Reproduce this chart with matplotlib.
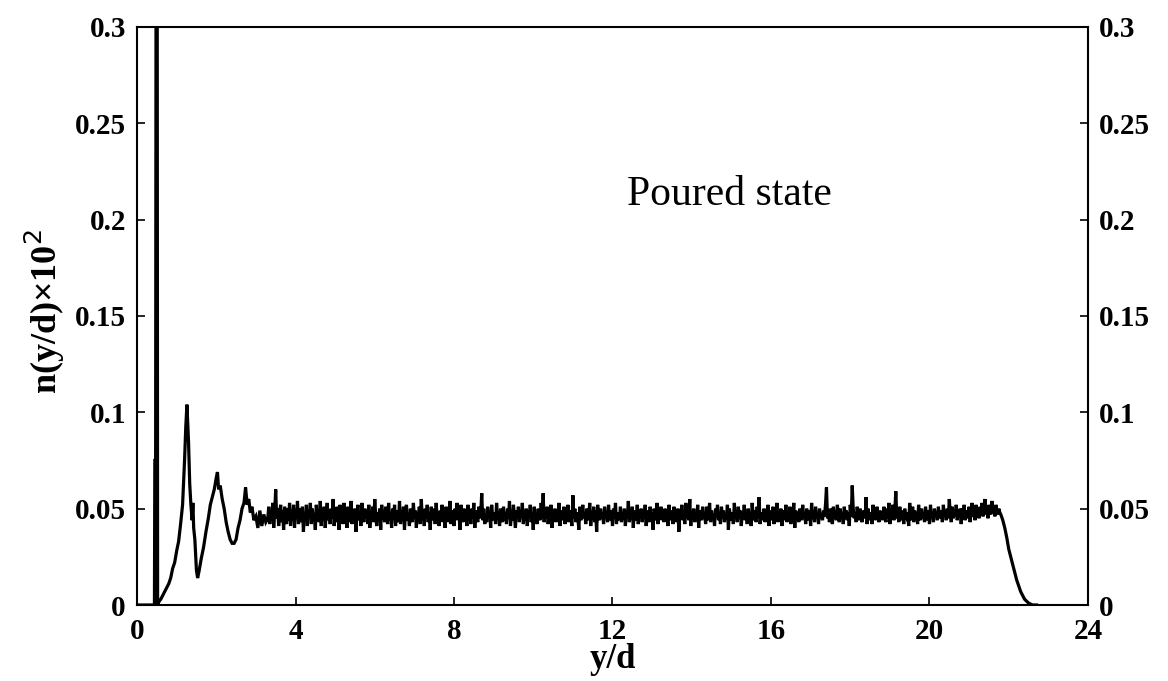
import numpy as np
import matplotlib
matplotlib.use("Agg")
import matplotlib.pyplot as plt

plt.rcParams['font.family'] = ['Liberation Serif', 'DejaVu Serif']

# Near-wall region: wall spike and first layering peaks (x = y/d, y = n(y/d)x10^2)
near_wall_x = [0.00, 0.40, 0.44, 0.45, 0.47, 0.48, 0.51, 0.52, 0.56, 0.60,
               0.65, 0.70, 0.75, 0.80, 0.85, 0.90, 0.95, 1.00, 1.05, 1.10,
               1.15, 1.20, 1.23, 1.26, 1.28, 1.30, 1.33, 1.36, 1.39, 1.41,
               1.43, 1.46, 1.50, 1.53, 1.57, 1.62, 1.68, 1.74, 1.80, 1.85,
               1.90, 1.95, 2.00, 2.03, 2.06, 2.10, 2.15, 2.20, 2.25, 2.30,
               2.35, 2.40, 2.45, 2.50, 2.55, 2.60, 2.65, 2.70, 2.74, 2.78,
               2.82, 2.86, 2.90, 2.95, 3.00, 3.05, 3.10, 3.15, 3.20, 3.25]
near_wall_n = [0.000, 0.000, 0.000, 0.075, 0.075, 0.320, 0.320, 0.000, 0.002, 0.003,
               0.005, 0.007, 0.009, 0.011, 0.014, 0.019, 0.022, 0.028, 0.033, 0.042,
               0.052, 0.075, 0.092, 0.104, 0.095, 0.085, 0.063, 0.052, 0.044, 0.053,
               0.040, 0.034, 0.018, 0.014, 0.018, 0.024, 0.030, 0.038, 0.045, 0.052,
               0.056, 0.060, 0.066, 0.069, 0.060, 0.062, 0.055, 0.050, 0.043, 0.038,
               0.034, 0.032, 0.032, 0.034, 0.040, 0.044, 0.050, 0.053, 0.061, 0.052,
               0.055, 0.048, 0.051, 0.044, 0.046, 0.040, 0.049, 0.041, 0.047, 0.043]

# Bulk region, sampled every 0.025 from y/d = 3.30 to 21.80
bulk_start, bulk_step = 3.30, 0.025
bulk_n = [
    0.045, 0.051, 0.042, 0.049, 0.044, 0.053, 0.040, 0.048, 0.060, 0.045, 0.050, 0.041, 0.047, 0.052, 0.043, 0.049, 0.039, 0.051, 0.046, 0.042,
    0.050, 0.044, 0.053, 0.041, 0.048, 0.045, 0.052, 0.040, 0.049, 0.046, 0.054, 0.042, 0.047, 0.050, 0.043, 0.051, 0.038, 0.048, 0.045, 0.052,
    0.041, 0.049, 0.046, 0.053, 0.042, 0.050, 0.044, 0.047, 0.039, 0.052, 0.045, 0.048, 0.043, 0.054, 0.041, 0.049, 0.046, 0.051, 0.040, 0.047,
    0.053, 0.044, 0.048, 0.042, 0.050, 0.045, 0.055, 0.041, 0.047, 0.043, 0.051, 0.046, 0.039, 0.052, 0.044, 0.049, 0.042, 0.053, 0.045, 0.048,
    0.040, 0.051, 0.046, 0.043, 0.054, 0.042, 0.049, 0.045, 0.050, 0.038, 0.047, 0.052, 0.044, 0.048, 0.041, 0.053, 0.046, 0.043, 0.050, 0.045,
    0.049, 0.042, 0.052, 0.040, 0.047, 0.045, 0.051, 0.043, 0.055, 0.046, 0.041, 0.048, 0.044, 0.050, 0.039, 0.052, 0.045, 0.047, 0.043, 0.051,
    0.046, 0.042, 0.053, 0.044, 0.048, 0.040, 0.050, 0.045, 0.052, 0.041, 0.049, 0.046, 0.043, 0.054, 0.042, 0.047, 0.045, 0.051, 0.039, 0.048,
    0.052, 0.044, 0.046, 0.041, 0.050, 0.047, 0.043, 0.053, 0.045, 0.049, 0.040, 0.048, 0.046, 0.051, 0.042, 0.055, 0.044, 0.047, 0.041, 0.050,
    0.045, 0.052, 0.043, 0.048, 0.039, 0.051, 0.046, 0.044, 0.050, 0.042, 0.053, 0.045, 0.047, 0.041, 0.049, 0.046, 0.052, 0.043, 0.048, 0.040,
    0.051, 0.045, 0.047, 0.043, 0.054, 0.042, 0.049, 0.046, 0.041, 0.050, 0.044, 0.053, 0.045, 0.048, 0.039, 0.052, 0.046, 0.043, 0.050, 0.045,
    0.048, 0.041, 0.052, 0.044, 0.047, 0.042, 0.050, 0.045, 0.053, 0.040, 0.049, 0.046, 0.043, 0.051, 0.045, 0.048, 0.058, 0.044, 0.050, 0.042,
    0.047, 0.043, 0.051, 0.045, 0.049, 0.040, 0.052, 0.046, 0.044, 0.048, 0.042, 0.053, 0.045, 0.047, 0.041, 0.050, 0.046, 0.043, 0.051, 0.044,
    0.048, 0.042, 0.050, 0.045, 0.054, 0.041, 0.047, 0.044, 0.052, 0.046, 0.040, 0.049, 0.045, 0.051, 0.043, 0.048, 0.046, 0.053, 0.042, 0.047,
    0.044, 0.050, 0.041, 0.049, 0.046, 0.052, 0.043, 0.048, 0.039, 0.051, 0.045, 0.047, 0.042, 0.050, 0.046, 0.044, 0.053, 0.045, 0.058, 0.043,
    0.049, 0.045, 0.051, 0.042, 0.047, 0.044, 0.052, 0.040, 0.048, 0.046, 0.050, 0.043, 0.047, 0.045, 0.053, 0.041, 0.049, 0.046, 0.044, 0.051,
    0.042, 0.048, 0.045, 0.052, 0.043, 0.049, 0.046, 0.041, 0.057, 0.045, 0.050, 0.043, 0.048, 0.046, 0.039, 0.051, 0.044, 0.047, 0.052, 0.045,
    0.048, 0.042, 0.050, 0.046, 0.044, 0.053, 0.041, 0.047, 0.045, 0.051, 0.043, 0.049, 0.038, 0.052, 0.046, 0.044, 0.050, 0.045, 0.048, 0.042,
    0.051, 0.045, 0.047, 0.043, 0.052, 0.046, 0.044, 0.049, 0.041, 0.050, 0.045, 0.053, 0.042, 0.048, 0.046, 0.044, 0.051, 0.043, 0.047, 0.045,
    0.050, 0.041, 0.048, 0.046, 0.054, 0.043, 0.047, 0.045, 0.051, 0.040, 0.049, 0.046, 0.044, 0.052, 0.042, 0.048, 0.045, 0.050, 0.043, 0.047,
    0.045, 0.052, 0.041, 0.049, 0.046, 0.043, 0.051, 0.045, 0.048, 0.039, 0.050, 0.047, 0.044, 0.053, 0.042, 0.048, 0.046, 0.051, 0.044, 0.049,
    0.043, 0.050, 0.045, 0.047, 0.041, 0.052, 0.046, 0.044, 0.049, 0.042, 0.051, 0.045, 0.047, 0.043, 0.050, 0.038, 0.048, 0.046, 0.052, 0.044,
    0.047, 0.042, 0.053, 0.045, 0.049, 0.044, 0.055, 0.041, 0.048, 0.046, 0.050, 0.043, 0.047, 0.045, 0.052, 0.040, 0.049, 0.046, 0.044, 0.051,
    0.045, 0.048, 0.042, 0.051, 0.046, 0.044, 0.053, 0.043, 0.049, 0.045, 0.047, 0.041, 0.050, 0.046, 0.052, 0.044, 0.048, 0.042, 0.051, 0.045,
    0.049, 0.043, 0.047, 0.045, 0.052, 0.039, 0.050, 0.046, 0.044, 0.048, 0.042, 0.053, 0.045, 0.047, 0.043, 0.051, 0.046, 0.049, 0.041, 0.048,
    0.046, 0.052, 0.044, 0.048, 0.042, 0.050, 0.045, 0.047, 0.041, 0.053, 0.046, 0.044, 0.049, 0.043, 0.051, 0.045, 0.056, 0.042, 0.048, 0.046,
    0.044, 0.050, 0.043, 0.047, 0.045, 0.052, 0.041, 0.049, 0.046, 0.044, 0.051, 0.042, 0.048, 0.046, 0.053, 0.043, 0.047, 0.045, 0.050, 0.041,
    0.049, 0.046, 0.044, 0.052, 0.043, 0.048, 0.045, 0.051, 0.042, 0.047, 0.046, 0.053, 0.040, 0.049, 0.045, 0.047, 0.043, 0.050, 0.046, 0.044,
    0.052, 0.045, 0.048, 0.042, 0.050, 0.046, 0.044, 0.049, 0.041, 0.053, 0.045, 0.047, 0.043, 0.051, 0.046, 0.048, 0.042, 0.050, 0.045, 0.047,
    0.044, 0.049, 0.046, 0.052, 0.061, 0.045, 0.048, 0.043, 0.050, 0.046, 0.042, 0.051, 0.045, 0.048, 0.044, 0.052, 0.046, 0.043, 0.050, 0.045,
    0.047, 0.042, 0.051, 0.045, 0.049, 0.044, 0.048, 0.041, 0.052, 0.046, 0.062, 0.050, 0.045, 0.048, 0.043, 0.051, 0.046, 0.044, 0.050, 0.045,
    0.043, 0.049, 0.047, 0.045, 0.056, 0.042, 0.050, 0.046, 0.044, 0.048, 0.042, 0.052, 0.045, 0.047, 0.044, 0.051, 0.046, 0.043, 0.049, 0.045,
    0.048, 0.044, 0.051, 0.046, 0.043, 0.050, 0.045, 0.053, 0.042, 0.048, 0.046, 0.052, 0.044, 0.049, 0.059, 0.045, 0.047, 0.043, 0.051, 0.046,
    0.044, 0.049, 0.042, 0.050, 0.046, 0.045, 0.048, 0.041, 0.053, 0.046, 0.044, 0.051, 0.043, 0.049, 0.045, 0.047, 0.042, 0.052, 0.046, 0.044,
    0.050, 0.045, 0.048, 0.043, 0.051, 0.046, 0.044, 0.049, 0.042, 0.052, 0.045, 0.047, 0.043, 0.050, 0.046, 0.048, 0.044, 0.051, 0.045, 0.047,
    0.049, 0.043, 0.052, 0.046, 0.048, 0.044, 0.050, 0.045, 0.055, 0.047, 0.043, 0.051, 0.045, 0.049, 0.046, 0.052, 0.044, 0.048, 0.046, 0.050,
    0.042, 0.050, 0.046, 0.052, 0.044, 0.049, 0.047, 0.045, 0.051, 0.043, 0.048, 0.053, 0.046, 0.050, 0.044, 0.052, 0.047, 0.049, 0.045, 0.051,
    0.048, 0.053, 0.046, 0.050, 0.055, 0.047, 0.051, 0.045, 0.052, 0.049, 0.047, 0.054, 0.048, 0.051, 0.046, 0.052, 0.049, 0.047, 0.050, 0.048,
    0.047,
]

# Free-surface decay
surface_x = [21.85, 21.90, 21.95, 22.00, 22.05, 22.10, 22.15, 22.20, 22.25,
             22.30, 22.35, 22.40, 22.50, 22.60, 22.70]
surface_n = [0.044, 0.040, 0.035, 0.029, 0.025, 0.021, 0.017, 0.013, 0.010,
             0.007, 0.005, 0.003, 0.001, 0.000, 0.000]

x_ticks = [0, 4, 8, 12, 16, 20, 24]
y_ticks = [0, 0.05, 0.1, 0.15, 0.2, 0.25, 0.3]
y_tick_labels = ["0", "0.05", "0.1", "0.15", "0.2", "0.25", "0.3"]

bulk_x = bulk_start + bulk_step * np.arange(len(bulk_n))
x = np.concatenate([near_wall_x, bulk_x, surface_x])
n = np.concatenate([near_wall_n, bulk_n, surface_n])

fig = plt.figure(figsize=(11.68, 6.81), dpi=100)
ax = fig.add_axes([0.1173, 0.1116, 0.8142, 0.8488])

ax.plot(x, n, color='black', lw=2.3, solid_joinstyle='miter')

ax.set_xlim(0, 24)
ax.set_ylim(0, 0.3)
ax.set_xticks(x_ticks)
ax.set_xticklabels([str(t) for t in x_ticks])
ax.set_yticks(y_ticks)
ax.set_yticklabels(y_tick_labels)

for sp in ax.spines.values():
    sp.set_linewidth(1.5)

ax.tick_params(direction='in', length=6, width=1.2, labelsize=21,
               top=False, right=True, labelright=True)
ax.tick_params(axis='x', pad=9)
ax.tick_params(axis='y', pad=8)
for t in ax.xaxis.get_major_ticks():
    t.label1.set_fontweight('bold')
for t in ax.yaxis.get_major_ticks():
    t.label1.set_fontweight('bold')
    t.label2.set_fontweight('bold')

ax.set_xlabel("y/d", fontsize=25, fontweight='bold', va='center')
ax.xaxis.set_label_coords(0.5, -0.095)
ax.set_ylabel("n(y/d)\u00d710$^2$", fontsize=26, fontweight='bold', va='center')
ax.yaxis.set_label_coords(-0.097, 0.507)

ax.text(14.95, 0.2076, "Poured state", fontsize=30, ha='center', va='baseline')

fig.savefig("out.png", dpi=100)
